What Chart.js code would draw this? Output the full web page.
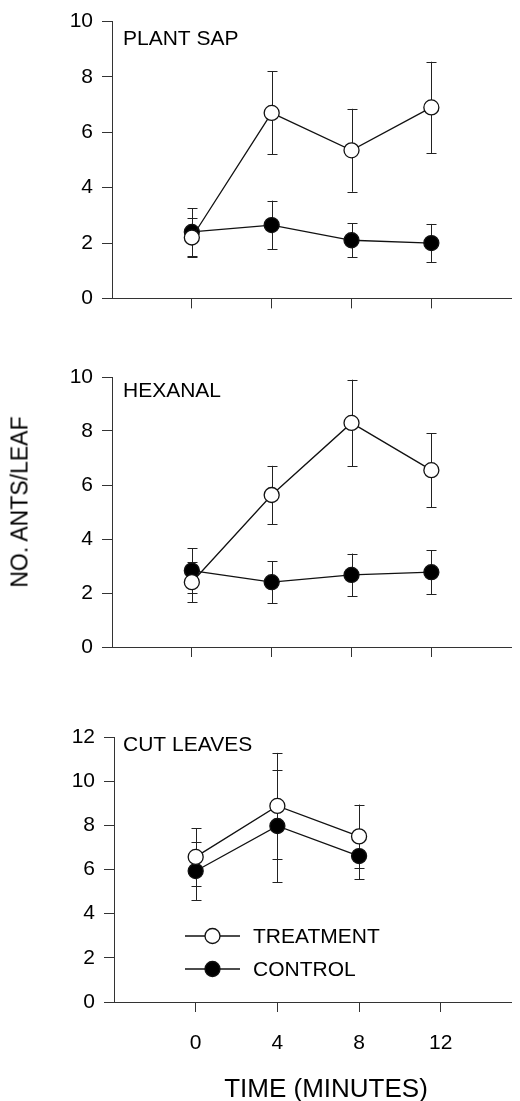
<!DOCTYPE html>
<html>
<head>
<meta charset="utf-8">
<script src="https://cdn.jsdelivr.net/npm/chart.js@4.4.1/dist/chart.umd.min.js"></script>
<style>
  html, body { margin: 0; padding: 0; background: #fff; overflow: hidden; }
  #wrap { position: relative; width: 520px; height: 1101px; font-family: "Liberation Sans", Arial, sans-serif; color: #000; }
  canvas { position: absolute; left: 0; }
  .ytitle { position: absolute; left: 20px; top: 502px; transform: translate(-50%, -50%) rotate(-90deg); white-space: nowrap; font-size: 23px; }
  .xtitle { position: absolute; left: 326px; top: 1088px; transform: translate(-50%, -50%); white-space: nowrap; font-size: 26px; }
</style>
</head>
<body>
<div id="wrap">
  <canvas id="c1" width="520" height="320" style="top:0px"></canvas>
  <canvas id="c2" width="520" height="340" style="top:330px"></canvas>
  <canvas id="c3" width="520" height="401" style="top:700px"></canvas>
  <div class="ytitle">NO. ANTS/LEAF</div>
  <div class="xtitle">TIME (MINUTES)</div>
</div>
<script>
// Sampling times (minutes) and their tick labels
const timesMin = [0, 4, 8, 12];
const xTickLabels = ['0', '4', '8', '12'];
const seriesNames = ['TREATMENT', 'CONTROL'];
const panelNames = ['PLANT SAP', 'HEXANAL', 'CUT LEAVES'];

// Plant sap: means and standard errors
const sapTreatment = [2.2, 6.7, 5.35, 6.9];
const sapTreatmentErr = [0.7, 1.5, 1.5, 1.65];
const sapControl = [2.4, 2.65, 2.1, 2.0];
const sapControlErr = [0.86, 0.88, 0.61, 0.69];

// Hexanal
const hexTreatment = [2.4, 5.63, 8.3, 6.55];
const hexTreatmentErr = [0.74, 1.08, 1.6, 1.37];
const hexControl = [2.83, 2.4, 2.67, 2.77];
const hexControlErr = [0.83, 0.77, 0.79, 0.82];

// Cut leaves (no 12-minute count)
const cutTreatment = [6.57, 8.88, 7.5];
const cutTreatmentErr = [1.3, 2.4, 1.44];
const cutControl = [5.93, 7.97, 6.61];
const cutControlErr = [1.31, 2.55, 1.06];

const FONT = '"Liberation Sans", Arial, sans-serif';
const INK = '#111';
const TEXT_SIZE = 21;

// Vertical error bars with caps, drawn under the markers
const errorBarPlugin = {
  id: 'errorBars',
  beforeDatasetsDraw(chart) {
    const ctx = chart.ctx;
    const yScale = chart.scales.y;
    ctx.save();
    ctx.strokeStyle = '#222';
    ctx.lineWidth = 1;
    chart.data.datasets.forEach((ds, di) => {
      if (!ds.errors) return;
      const meta = chart.getDatasetMeta(di);
      meta.data.forEach((pt, i) => {
        const v = ds.data[i].y, e = ds.errors[i];
        const x = Math.round(pt.x) + 0.5;
        const yt = yScale.getPixelForValue(v + e);
        const yb = yScale.getPixelForValue(v - e);
        ctx.beginPath();
        ctx.moveTo(x, yt); ctx.lineTo(x, yb);
        ctx.moveTo(x - 5, Math.round(yt) + 0.5); ctx.lineTo(x + 5, Math.round(yt) + 0.5);
        ctx.moveTo(x - 5, Math.round(yb) + 0.5); ctx.lineTo(x + 5, Math.round(yb) + 0.5);
        ctx.stroke();
      });
    });
    ctx.restore();
  }
};

// Panel caption in the upper left of the plotting area
const panelLabelPlugin = {
  id: 'panelLabel',
  afterDraw(chart, args, opts) {
    if (!opts.text) return;
    const ctx = chart.ctx, a = chart.chartArea;
    ctx.save();
    ctx.font = TEXT_SIZE + 'px ' + FONT;
    ctx.fillStyle = '#000';
    ctx.textBaseline = 'alphabetic';
    ctx.fillText(opts.text, a.left + opts.dx, a.top + opts.dy);
    ctx.restore();
  }
};

// Key with line-and-marker samples built from the dataset styles
const keyPlugin = {
  id: 'seriesKey',
  afterDraw(chart, args, opts) {
    if (!opts.show) return;
    const ctx = chart.ctx, a = chart.chartArea;
    ctx.save();
    chart.data.datasets.forEach((ds, i) => {
      const cy = a.top + opts.dy + i * opts.rowGap;
      const x0 = a.left + opts.dx;
      ctx.strokeStyle = ds.borderColor;
      ctx.lineWidth = ds.borderWidth;
      ctx.beginPath();
      ctx.moveTo(x0, cy); ctx.lineTo(x0 + opts.lineLen, cy);
      ctx.stroke();
      ctx.beginPath();
      ctx.arc(x0 + opts.lineLen / 2, cy, ds.pointRadius, 0, Math.PI * 2);
      ctx.fillStyle = ds.pointBackgroundColor;
      ctx.fill();
      ctx.lineWidth = ds.pointBorderWidth;
      ctx.strokeStyle = ds.pointBorderColor;
      ctx.stroke();
      ctx.font = TEXT_SIZE + 'px ' + FONT;
      ctx.fillStyle = '#000';
      ctx.textBaseline = 'middle';
      ctx.fillText(ds.label, x0 + opts.lineLen + opts.textGap, cy + 1);
    });
    ctx.restore();
  }
};

function points(vals) {
  return vals.map((v, i) => ({ x: timesMin[i], y: v }));
}

function series(name, vals, errs, fill) {
  return {
    label: name,
    data: points(vals),
    errors: errs,
    borderColor: INK,
    borderWidth: 1.3,
    pointRadius: 7.5,
    pointHoverRadius: 7.5,
    pointBackgroundColor: fill,
    pointBorderColor: INK,
    pointBorderWidth: 1.3,
    tension: 0,
    clip: false
  };
}

function makePanel(id, cfg) {
  new Chart(document.getElementById(id), {
    type: 'line',
    data: {
      datasets: [
        series(seriesNames[0], cfg.treat, cfg.treatErr, '#fff'),
        series(seriesNames[1], cfg.ctrl, cfg.ctrlErr, '#000')
      ]
    },
    plugins: [errorBarPlugin, panelLabelPlugin, keyPlugin],
    options: {
      responsive: false,
      animation: false,
      devicePixelRatio: 1,
      events: [],
      layout: { padding: { top: cfg.padTop, right: cfg.padRight, left: 0, bottom: 0 } },
      plugins: {
        legend: { display: false },
        tooltip: { enabled: false },
        panelLabel: { text: cfg.name, dx: cfg.labelDx, dy: cfg.labelDy },
        seriesKey: cfg.key || { show: false }
      },
      scales: {
        x: {
          type: 'linear',
          min: -4,
          max: cfg.xMax,
          afterBuildTicks(scale) { scale.ticks = timesMin.map(v => ({ value: v })); },
          afterFit(scale) { scale.height = cfg.xHeight; },
          grid: { drawOnChartArea: false, drawTicks: true, tickLength: 10, color: '#333', lineWidth: 1 },
          border: { display: true, color: '#333', width: 1 },
          ticks: {
            display: cfg.showXLabels,
            padding: 19,
            color: '#000',
            font: { size: TEXT_SIZE, family: FONT },
            maxRotation: 0,
            callback(v) { const i = timesMin.indexOf(v); return i >= 0 ? xTickLabels[i] : ''; }
          }
        },
        y: {
          min: 0,
          max: cfg.yMax,
          afterFit(scale) { scale.width = cfg.yWidth; },
          grid: { drawOnChartArea: false, drawTicks: true, tickLength: 10, color: '#333', lineWidth: 1 },
          border: { display: true, color: '#333', width: 1 },
          ticks: { stepSize: 2, padding: 9, color: '#000', font: { size: TEXT_SIZE, family: FONT } }
        }
      }
    }
  });
}

makePanel('c1', {
  name: panelNames[0], treat: sapTreatment, treatErr: sapTreatmentErr,
  ctrl: sapControl, ctrlErr: sapControlErr,
  yMax: 10, xMax: 16, padTop: 20, padRight: 4, xHeight: 21, yWidth: 112,
  labelDx: 11, labelDy: 23, showXLabels: false
});

makePanel('c2', {
  name: panelNames[1], treat: hexTreatment, treatErr: hexTreatmentErr,
  ctrl: hexControl, ctrlErr: hexControlErr,
  yMax: 10, xMax: 16, padTop: 47, padRight: 2, xHeight: 23, yWidth: 112,
  labelDx: 11, labelDy: 20, showXLabels: false
});

makePanel('c3', {
  name: panelNames[2], treat: cutTreatment, treatErr: cutTreatmentErr,
  ctrl: cutControl, ctrlErr: cutControlErr,
  yMax: 12, xMax: 15.45, padTop: 37, padRight: 0, xHeight: 99, yWidth: 114,
  labelDx: 9, labelDy: 14, showXLabels: true,
  key: { show: true, dx: 71, dy: 199, rowGap: 33, lineLen: 55, textGap: 13 }
});
</script>
</body>
</html>
